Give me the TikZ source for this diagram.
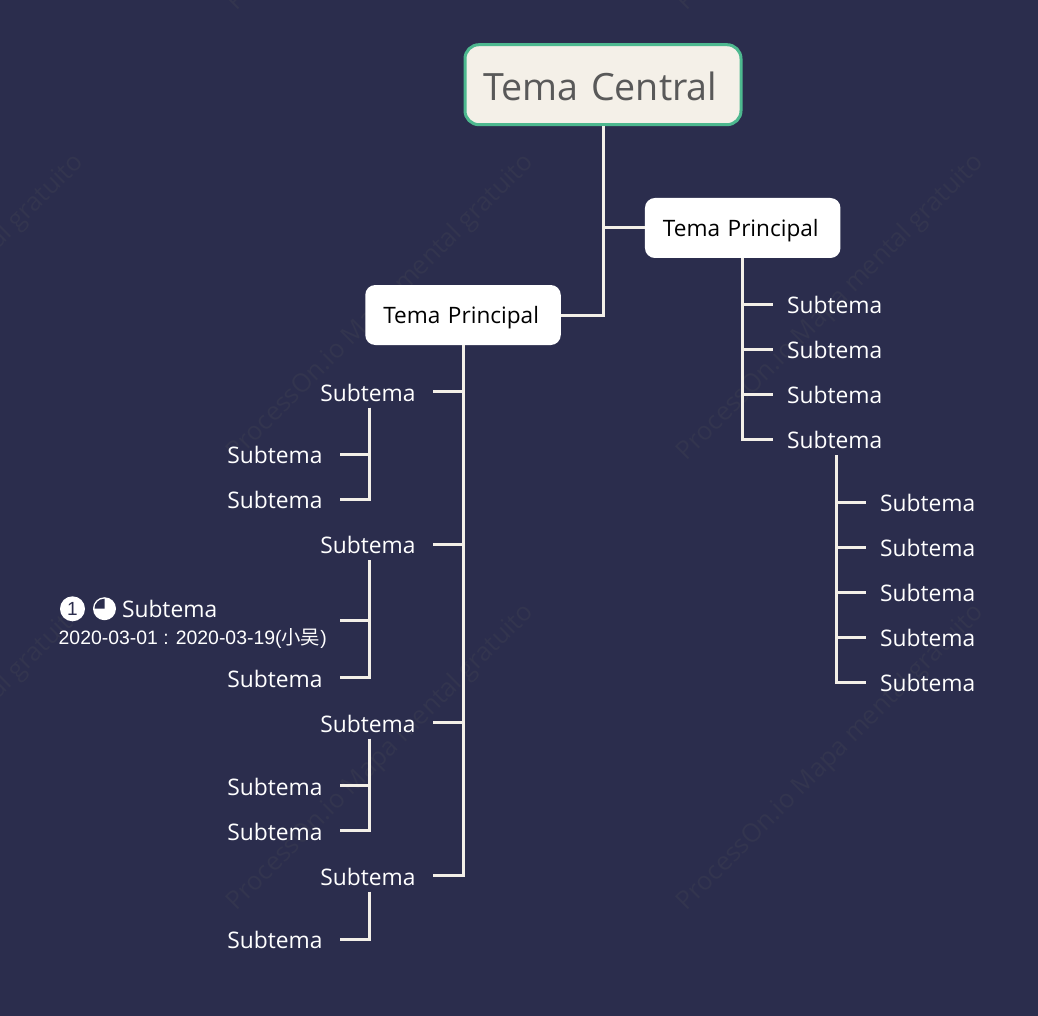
\documentclass[tikz,border=0pt]{standalone}
\usepackage{fontspec}
\setmainfont{Open Sans}
\newfontfamily\datefont{Liberation Sans}
\newfontfamily\cjk{Noto Sans CJK SC}
\definecolor{bgcol}{HTML}{2B2D4D}
\definecolor{wmcol}{HTML}{33354F}
\definecolor{linecol}{HTML}{F3EFE8}
\definecolor{rootcol}{HTML}{F4F0E8}
\definecolor{rootedge}{HTML}{4DB88F}
\definecolor{rootink}{HTML}{595959}
\tikzset{
  root/.style={draw=rootedge,line width=3pt,fill=rootcol,text=rootink,rounded corners=14pt,
    inner xsep=18.5pt,text width=239pt,align=left,
    minimum width=276pt,minimum height=80pt,text height=31pt,text depth=0pt,
    font=\fontsize{37.6}{46}\selectfont},
  maintopic/.style={fill=white,text=black,rounded corners=10pt,outer sep=0pt,
    inner xsep=18pt,text width=159.5pt,align=left,
    minimum width=195.5pt,minimum height=60pt,text height=23pt,font=\fontsize{22.6}{27}\selectfont},
  subtopic/.style={text=white,outer sep=0pt,minimum height=32pt,text height=19pt,text depth=0pt,
    font=\fontsize{22.8}{27}\selectfont},
  subleft/.style={subtopic,anchor=east,inner xsep=17.5pt},
  subright/.style={subtopic,anchor=west,inner xsep=14pt},
  link/.style={draw=linecol,line width=3pt},
  wmark/.style={text=wmcol,rotate=45,anchor=south west,inner sep=0pt,font=\fontsize{25.6}{30}\selectfont}
}
\begin{document}
\begin{tikzpicture}[x=1pt,y=-1pt]
    \useasboundingbox (0,0) rectangle (1038,1016);
    \clip (0,0) rectangle (1038,1016);
    \fill[bgcol] (0,0) rectangle (1038,1016);
    \foreach \x/\y in {241/16,691/16,-209/466,241/466,691/466,-209/916,241/916,691/916}
      \node[wmark] at (\x,\y) {ProcessOn.io Mapa mental gratuito};
    \node[root] (central) at (603,84.7) {Tema Central};
    \node[maintopic] (mainr) at (742.7,228) {Tema Principal};
    \node[maintopic] (mainl) at (463,315) {Tema Principal};
    \draw[link] (central.south) |- (mainr.west);
    \draw[link] (central.south) |- (mainl.east);
    \foreach \n/\y in {1/304.3,2/349.3,3/394.3,4/439.3}
      \node[subright] (r\n) at (773,\y) {Subtema};
    \foreach \n/\y in {1/502.3,2/547.3,3/592.3,4/637.3,5/682.3}
      \node[subright] (rr\n) at (866,\y) {Subtema};
    \foreach \n in {1,2,3,4}
      \draw[link] (mainr.south) |- (r\n.west);
    \foreach \n in {1,2,3,4,5}
      \draw[link] ([xshift=1.5pt]r4.south) |- (rr\n.west);
    \foreach \n/\y in {1/391.7,2/544.3,3/722.7,4/875.7}
      \node[subleft] (l\n) at (433,\y) {Subtema};
    \foreach \n in {1,2,3,4}
      \draw[link] (mainl.south) |- (l\n.east);
    \foreach \n/\y in {a/454,b/499,d/677.7,e/785.7,f/830.7,g/939}
      \node[subleft] (ll\n) at (340,\y) {Subtema};
    \coordinate (llc) at (340,620);
    \foreach \n/\p in {a/1,b/1,d/2,e/3,f/3,g/4}
      \draw[link] ([xshift=1.6pt]l\p.south) |- (ll\n.east);
    \draw[link] ([xshift=1.6pt]l2.south) |- (llc);
    \node[circle,fill=white,text=bgcol,inner sep=0pt,minimum size=25pt,font=\datefont\fontsize{19}{22}\selectfont]
      (flag) at (72.5,608.8) {1};
    \node[circle,fill=white,inner sep=0pt,minimum size=23pt] (pie) at (104.5,608.7) {};
    \fill[bgcol] (pie.center) -- ++(-10,0) arc[start angle=180,end angle=90,radius=10pt] -- cycle;
    \node[subtopic,anchor=west,inner sep=0pt] (task) at (122,608) {Subtema};
    \node[anchor=west,inner sep=0pt,text=white,font=\datefont\fontsize{19.4}{23}\selectfont]
      (date) at (58.5,638) {2020-03-01 : 2020-03-19({\cjk 小吴})};
  \end{tikzpicture}
\end{document}
